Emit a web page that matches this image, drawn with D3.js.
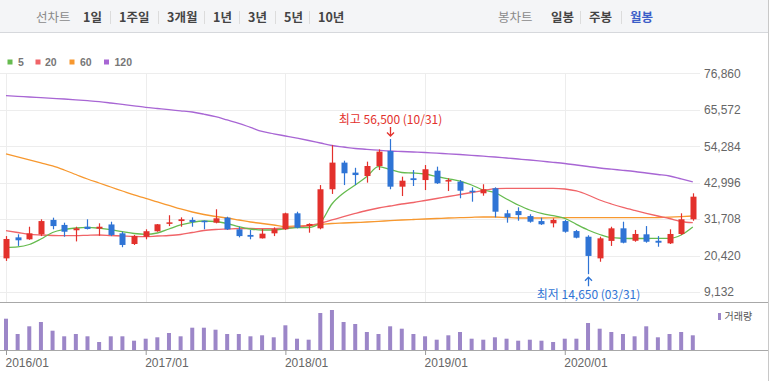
<!DOCTYPE html>
<html><head><meta charset="utf-8">
<script src="https://cdn.jsdelivr.net/npm/d3@7"></script>
<style>
body{margin:0;background:#fff;}
svg{display:block;font-family:"Liberation Sans","Noto Sans CJK KR",sans-serif;}
</style></head>
<body><svg id="c" width="777" height="381"></svg>
<script>
const months = ["2016/01","2016/02","2016/03","2016/04","2016/05","2016/06","2016/07","2016/08","2016/09","2016/10","2016/11","2016/12",
"2017/01","2017/02","2017/03","2017/04","2017/05","2017/06","2017/07","2017/08","2017/09","2017/10","2017/11","2017/12",
"2018/01","2018/02","2018/03","2018/04","2018/05","2018/06","2018/07","2018/08","2018/09","2018/10","2018/11","2018/12",
"2019/01","2019/02","2019/03","2019/04","2019/05","2019/06","2019/07","2019/08","2019/09","2019/10","2019/11","2019/12",
"2020/01","2020/02","2020/03","2020/04","2020/05","2020/06","2020/07","2020/08","2020/09","2020/10","2020/11","2020/12"];
const openP  = [19550,26050,25450,27000,31450,29900,28250,29350,28750,30050,27300,24000,26250,27950,30400,31100,31450,31200,30600,32150,28550,26800,25750,27300,28550,33500,29550,28850,40950,49200,46100,45050,48150,52800,41750,44350,43800,46700,43400,43300,40500,39700,41250,33500,34200,32650,31100,30400,31100,28000,26250,19550,24950,28850,25000,27000,25000,24200,27100,31650];
const highP  = [26450,27000,29350,31650,32150,30600,29350,31650,30400,30900,27800,26800,28550,30200,32900,32250,32250,31300,34750,32450,29350,28350,28650,29150,33700,34000,30400,42250,54600,49800,47600,49500,53300,56500,44850,46900,48450,47950,44350,43800,41550,42500,41550,34550,35350,33200,32150,31950,31450,28350,26700,26250,29350,30900,28350,29550,26450,28550,33500,39700];
const lowP   = [18750,23400,25300,26450,28550,26250,24800,28500,26550,26450,23000,23700,25450,27800,29550,29350,29350,28550,30400,28350,26050,25450,25700,26450,28350,28850,27500,28550,39500,42250,42250,43000,46900,40950,38850,41950,40700,42600,40400,38150,37100,38950,32250,30600,31200,30600,29900,29150,27500,25750,14650,18500,23400,24200,24700,24400,23150,24000,26800,31200];
const closeP = [25550,25150,27300,31100,29550,27800,28850,28650,29350,26800,23700,26450,27950,30100,30700,31650,30800,30900,31950,28550,26450,26250,27200,28550,33500,29050,30200,40950,49200,45900,45350,48150,52600,41750,43600,43800,47150,42800,43800,40500,40100,40950,34000,32250,32950,30900,30100,31450,27800,25950,20300,25750,28850,24400,27100,24700,24400,27100,31650,38650];
const volume = [3130,1600,2370,2800,1930,1370,1600,1370,800,1370,1370,930,1130,1270,1700,1370,2230,2230,2030,1600,1600,1370,1470,1270,2470,1130,1030,3700,4000,2800,2600,1800,1600,2370,2130,1600,1370,1030,1470,1800,1130,1030,1270,1130,930,1030,930,800,1130,1130,2700,2130,1800,1600,1370,2370,1270,1600,1800,1470];
const ma5   = [22976,23130,23843,25546,27559,28488,28953,29169,28891,28426,27807,27249,27002,27404,28643,29882,30718,31121,30966,30346,29355,28643,28333,28333,28736,29045,29108,30656,36386,39792,42270,44902,47937,47070,46141,45986,45677,44902,44190,43447,42270,40721,39947,37934,36076,34527,33505,32762,31957,30099,28333,26940,25949,25763,25701,25701,25763,25763,26785,29263];
const ma20  = [28117,27559,27002,26785,26630,26568,26568,26692,26785,26630,26475,26320,26258,26475,26630,26940,27559,28179,28488,28643,28798,28798,28736,28736,28953,29263,29727,30408,31430,32452,33443,34373,35147,35766,36386,36850,37470,38089,38708,39328,39947,40567,41124,41248,41248,41248,41248,41248,41031,40412,39173,37624,36386,35302,34373,33505,32669,31895,30966,30594];
const ma60  = [51871,50942,50012,49083,48154,46915,45522,44128,42889,41651,40412,39173,38151,37005,35921,34837,33908,33134,32514,32050,31430,30811,30346,29882,29417,29572,29727,30037,30346,30501,30656,30811,31028,31214,31430,31585,31740,31895,32050,32143,32267,32360,32360,32205,32050,32050,32050,32112,32143,32143,32143,32143,32143,32143,32143,32143,32205,32298,32452,32669];
const ma120 = [69926,69740,69523,69338,69121,68904,68656,68377,68068,67665,67232,66798,66334,65962,65590,65250,64878,64197,63422,62400,61378,60109,58839,58127,57445,56764,56052,55278,54503,54039,53574,53326,53047,52800,52645,52490,52335,52118,51932,51716,51468,51189,50941,50632,50322,50012,49641,49300,48928,48464,47999,47535,47163,46822,46450,45986,45521,45057,44128,43199];
const yTicks = [76860,65572,54284,42996,31708,20420,9132];
const maNames = ["5","20","60","120"];
const maColors = ["#66bb4f","#f06468","#f7982f","#a866d4"];
const periodTabs = ["1일","1주일","3개월","1년","3년","5년","10년"];
const periodX = [83,119,167,213,248,284,318];
const candleTabs = ["일봉","주봉","월봉"];
const candleX = [551,589,630];

const svg = d3.select("#c");
const RED="#e3312c", BLUE="#2f74d5", VOL="#9c86c8";

// header
svg.append("rect").attr("x",0).attr("y",0).attr("width",769).attr("height",32).attr("fill","#f4f5f7");
svg.append("line").attr("x1",0).attr("x2",769).attr("y1",32.5).attr("y2",32.5).attr("stroke","#d6d8dc");
svg.append("line").attr("x1",768.5).attr("x2",768.5).attr("y1",0).attr("y2",381).attr("stroke","#c8c8c8");
const hf = '"Noto Sans CJK KR",sans-serif';
svg.append("text").attr("x",36).attr("y",21.5).text("선차트").attr("font-family",hf).attr("font-size",12.5).attr("fill","#8a8a8a");
periodTabs.forEach((t,i)=>{
  svg.append("text").attr("x",periodX[i]).attr("y",21.5).text(t).attr("font-family",hf).attr("font-size",12.5).attr("font-weight","bold").attr("fill","#444");
  if(i>0) svg.append("line").attr("x1",periodX[i]-8.5).attr("x2",periodX[i]-8.5).attr("y1",11).attr("y2",24).attr("stroke","#dcdcdc");
});
svg.append("text").attr("x",498).attr("y",21.5).text("봉차트").attr("font-family",hf).attr("font-size",12.5).attr("fill","#8a8a8a");
candleTabs.forEach((t,i)=>{
  svg.append("text").attr("x",candleX[i]).attr("y",21.5).text(t).attr("font-family",hf).attr("font-size",12.5).attr("font-weight","bold").attr("fill", i===2?"#3b5ec8":"#444");
  if(i>0) svg.append("line").attr("x1",candleX[i]-8.5).attr("x2",candleX[i]-8.5).attr("y1",11).attr("y2",24).attr("stroke","#dcdcdc");
});

// legend
const legX=[7.5,35.5,69.5,104], legTX=[18,45,80,114.5];
maNames.forEach((n,i)=>{
  svg.append("rect").attr("x",legX[i]).attr("y",59.5).attr("width",5).attr("height",5).attr("fill",maColors[i]);
  svg.append("text").attr("x",legTX[i]).attr("y",66).text(n).attr("font-size",10.5).attr("font-weight","bold").attr("fill","#777");
});

const x = d3.scalePoint().domain(months).range([6,692.8]);
const y = d3.scaleLinear().domain([9132,76860]).range([292,73.3]);
const yv = d3.scaleLinear().domain([0,4700]).range([350,303]);
const janTicks = months.filter(m=>m.endsWith("/01"));

// grid
svg.append("g").selectAll("line").data(yTicks).join("line")
  .attr("x1",0).attr("x2",700).attr("y1",d=>Math.round(y(d))+0.5).attr("y2",d=>Math.round(y(d))+0.5).attr("stroke","#ededed");
svg.append("g").selectAll("line").data(janTicks).join("line")
  .attr("x1",d=>Math.round(x(d))+0.5).attr("x2",d=>Math.round(x(d))+0.5).attr("y1",73).attr("y2",302).attr("stroke","#ededed");

// y axis
const ya = svg.append("g").attr("transform","translate(700,0)")
  .call(d3.axisRight(y).tickValues(yTicks).tickSize(0).tickPadding(4).tickFormat(d3.format(",")));
ya.select(".domain").remove();
ya.selectAll("text").attr("font-size",12).attr("fill","#666").attr("font-family","Liberation Sans, sans-serif");

// panel lines
svg.append("line").attr("x1",0).attr("x2",768).attr("y1",302.5).attr("y2",302.5).attr("stroke","#a8a8a8");
svg.append("line").attr("x1",0).attr("x2",768).attr("y1",350.5).attr("y2",350.5).attr("stroke","#a8a8a8");

// volume
svg.append("g").selectAll("rect").data(volume).join("rect")
  .attr("x",(d,i)=>x(months[i])-2).attr("width",4)
  .attr("y",d=>yv(d)).attr("height",d=>350-yv(d)).attr("fill",VOL);
svg.append("rect").attr("x",718).attr("y",313).attr("width",3).attr("height",7).attr("fill",VOL);
svg.append("text").attr("x",724.5).attr("y",320).text("거래량").attr("font-family",hf).attr("font-size",10).attr("fill","#555");

// x axis
const xa = svg.append("g").attr("transform","translate(0,350)")
  .call(d3.axisBottom(x).tickValues(janTicks).tickSize(5).tickPadding(3));
xa.select(".domain").remove();
xa.selectAll("line").attr("stroke","#999");
xa.selectAll("text").attr("text-anchor","start").attr("dx",-1).attr("font-size",12).attr("fill","#666").attr("font-family","Liberation Sans, sans-serif");

// MA lines
const line = d3.line().x((d,i)=>x(months[i])).y(d=>y(d)).curve(d3.curveMonotoneX);
[ma120,ma60,ma20,ma5].forEach((s,k)=>{
  const ci=3-k;
  svg.append("path").attr("d",line(s)).attr("fill","none").attr("stroke",maColors[ci]).attr("stroke-width",1.3);
});

// candles
const cg = svg.append("g");
months.forEach((m,i)=>{
  const up = closeP[i]>=openP[i];
  const col = up?RED:BLUE;
  const cx = Math.round(x(m));
  cg.append("line").attr("x1",cx+0.5).attr("x2",cx+0.5).attr("y1",y(highP[i])).attr("y2",y(lowP[i])).attr("stroke",col).attr("stroke-width",1.2);
  const top=y(Math.max(openP[i],closeP[i])), bot=y(Math.min(openP[i],closeP[i]));
  cg.append("rect").attr("x",cx-2.5).attr("width",6).attr("y",top).attr("height",Math.max(1.5,bot-top)).attr("fill",col);
});

// annotations
const iMax = highP.indexOf(d3.max(highP)), iMin = lowP.indexOf(d3.min(lowP));
const mxX = Math.round(x(months[iMax]))+0.5, mxY = y(highP[iMax]);
svg.append("text").attr("x",mxX).attr("y",mxY-15).attr("text-anchor","middle").attr("font-family",hf).attr("font-size",12).attr("fill",RED)
  .text("최고 "+d3.format(",")(highP[iMax])+" (10/31)");
svg.append("path").attr("d",`M${mxX},${mxY-12}V${mxY-3}M${mxX-3.5},${mxY-6.5}L${mxX},${mxY-3}L${mxX+3.5},${mxY-6.5}`).attr("fill","none").attr("stroke",RED).attr("stroke-width",1.3);
const mnX = Math.round(x(months[iMin]))+0.5, mnY = y(lowP[iMin]);
svg.append("text").attr("x",mnX).attr("y",mnY+25).attr("text-anchor","middle").attr("font-family",hf).attr("font-size",12).attr("fill",BLUE)
  .text("최저 "+d3.format(",")(lowP[iMin])+" (03/31)");
svg.append("path").attr("d",`M${mnX},${mnY+12}V${mnY+3}M${mnX-3.5},${mnY+6.5}L${mnX},${mnY+3}L${mnX+3.5},${mnY+6.5}`).attr("fill","none").attr("stroke",BLUE).attr("stroke-width",1.3);
</script></body></html>
